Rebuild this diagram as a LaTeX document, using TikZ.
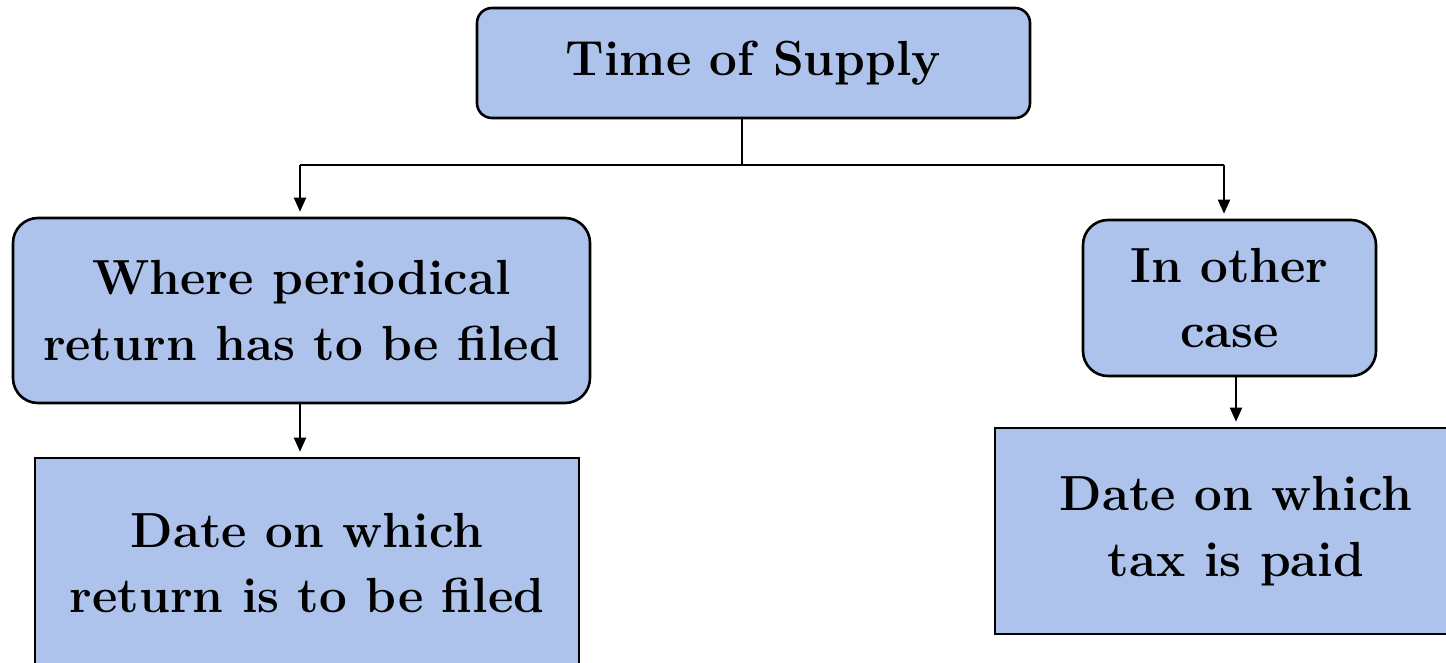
\documentclass[tikz,border=0pt]{standalone}
\usetikzlibrary{arrows.meta}
\definecolor{boxblue}{HTML}{AEC3EB}
\begin{document}
\begin{tikzpicture}[x=1bp,y=-1bp,
  every node/.style={font=\bfseries\fontsize{49.5}{66}\selectfont, align=center, inner sep=0pt},
  boxbase/.style={draw=black, line width=2.6bp, fill=boxblue},
  roundbox/.style={boxbase, rounded corners=#1},
  flatbox/.style={boxbase},
  link/.style={line width=2bp, draw=black},
  arrowlink/.style={link, -{Triangle[length=14bp,width=12bp]}, shorten >=5bp}]
\useasboundingbox (0,0) rectangle (1446,663);

% boxes
\node[roundbox=15bp, minimum width=553bp, minimum height=110bp] (top) at (753.5,63) {Time of Supply};
\node[roundbox=25bp, minimum width=577bp, minimum height=185bp] (lb2) at (301.5,310.5) {Where periodical\\return has to be filed};
\node[roundbox=25bp, minimum width=293bp, minimum height=156bp] (rb2) at (1229.5,298) {In other\\case};
\node[flatbox, minimum width=544bp, minimum height=210bp] (lb3) at (307,563) {Date on which\\return is to be filed};
\node[flatbox, minimum width=482bp, minimum height=206bp] (rb3) at (1236,531) {Date on which\\tax is paid};

% branch from the top box
\coordinate (j) at (742,165);
\coordinate (jl) at (300,165);
\coordinate (jr) at (1224,165);
\draw[link] (j |- top.south) -- (j);
\draw[link] (jl) -- (jr);
\draw[arrowlink] (jl) -- (jl |- lb2.north);
\draw[arrowlink] (jr) -- (jr |- rb2.north);

% lower arrows
\draw[arrowlink] (lb2.south -| jl) -- (jl |- lb3.north);
\draw[arrowlink] (rb3.north |- rb2.south) -- (rb3.north);
\end{tikzpicture}
\end{document}
